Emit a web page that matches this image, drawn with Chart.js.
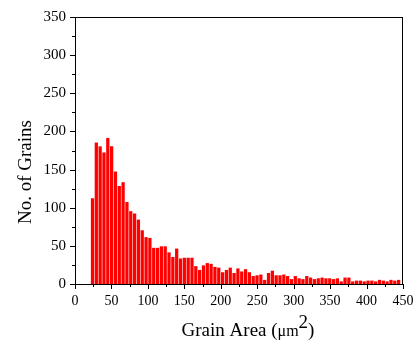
<!DOCTYPE html>
<html>
<head>
<meta charset="utf-8">
<script src="https://cdn.jsdelivr.net/npm/chart.js@4.4.1/dist/chart.umd.min.js"></script>
<style>
  html, body { margin: 0; padding: 0; background: #fff; }
  #wrap { width: 418px; height: 347px; }
</style>
</head>
<body>
<div id="wrap"><canvas id="grains"></canvas></div>
<script>
// bin centres (µm²) and grain counts
const binCenters = [
  24, 29.25, 34.5, 39.75, 45, 50.25, 55.5, 60.75, 66, 71.25,
  76.5, 81.75, 87, 92.25, 97.5, 102.75, 108, 113.25, 118.5, 123.75,
  129, 134.25, 139.5, 144.75, 150, 155.25, 160.5, 165.75, 171, 176.25,
  181.5, 186.75, 192, 197.25, 202.5, 207.75, 213, 218.25, 223.5, 228.75,
  234, 239.25, 244.5, 249.75, 255, 260.25, 265.5, 270.75, 276, 281.25,
  286.5, 291.75, 297, 302.25, 307.5, 312.75, 318, 323.25, 328.5, 333.75,
  339, 344.25, 349.5, 354.75, 360, 365.25, 370.5, 375.75, 381, 386.25,
  391.5, 396.75, 402, 407.25, 412.5, 417.75, 423, 428.25, 433.5, 438.75,
  444
];
const grainCounts = [
  112, 185, 180, 172, 191, 180, 147, 128, 133, 107,
  95, 92, 84, 70, 61, 60, 47, 47, 49, 49,
  41, 35, 46, 33, 34, 34, 34, 23, 18, 24,
  27, 26, 22, 21, 15, 18, 21, 14, 20, 16,
  19, 15, 10, 11, 12, 5, 14, 17, 11, 11,
  12, 10, 6, 10, 7, 6, 10, 8, 6, 7,
  8, 7, 7, 6, 7, 3, 8, 8, 3, 4,
  4, 3, 4, 4, 3, 5, 4, 3, 5, 4,
  5
];
const xTickValues = [0, 50, 100, 150, 200, 250, 300, 350, 400, 450];
const yTickValues = [0, 50, 100, 150, 200, 250, 300, 350];

const serif = '"Liberation Serif", "Times New Roman", serif';

// frame, tick marks and axis titles
const framePlugin = {
  id: 'frame',
  afterDraw(chart) {
    const { ctx, chartArea: a, scales: { x, y } } = chart;
    ctx.save();
    ctx.strokeStyle = '#000';
    ctx.lineWidth = 1;
    ctx.beginPath();
    ctx.moveTo(a.left, a.top + 0.5);
    ctx.lineTo(a.right, a.top + 0.5);
    ctx.moveTo(a.right - 0.5, a.top);
    ctx.lineTo(a.right - 0.5, a.bottom);
    // x ticks, major every 50, minor in between
    for (let v = 0; v <= 450; v += 25) {
      const px = Math.round(x.getPixelForValue(v)) + 0.5;
      const len = v % 50 === 0 ? 5 : 3;
      ctx.moveTo(px, a.bottom);
      ctx.lineTo(px, a.bottom + len);
    }
    for (let v = 0; v <= 350; v += 25) {
      const py = Math.round(y.getPixelForValue(v)) + 0.5;
      const len = v % 50 === 0 ? 5 : 3;
      ctx.moveTo(a.left, py);
      ctx.lineTo(a.left - len, py);
    }
    ctx.stroke();

    ctx.fillStyle = '#000';
    ctx.textBaseline = 'alphabetic';
    // y title
    ctx.save();
    ctx.translate(31, 172);
    ctx.rotate(-Math.PI / 2);
    ctx.textAlign = 'center';
    ctx.font = '19px ' + serif;
    ctx.fillText('No. of Grains', 0, 0);
    ctx.restore();

    // x title with superscript
    const big = '19px ' + serif;
    const mid = '16px ' + serif;
    const parts = [
      { t: 'Grain Area (', f: big, dy: 0 },
      { t: 'μm', f: mid, dy: 0 },
      { t: '2', f: big, dy: -8 },
      { t: ')', f: big, dy: 0 }
    ];
    let total = 0;
    parts.forEach(p => { ctx.font = p.f; p.w = ctx.measureText(p.t).width; total += p.w; });
    let cx = 248 - total / 2;
    const base = 336;
    ctx.textAlign = 'left';
    parts.forEach(p => { ctx.font = p.f; ctx.fillText(p.t, cx, base + p.dy); cx += p.w; });
    ctx.restore();
  }
};

new Chart(document.getElementById('grains'), {
  type: 'bar',
  data: {
    datasets: [{
      data: binCenters.map((c, i) => ({ x: c, y: grainCounts[i] })),
      backgroundColor: '#ff0000',
      borderWidth: 0,
      barThickness: 2.6
    }]
  },
  options: {
    responsive: true,
    maintainAspectRatio: false,
    animation: false,
    layout: { padding: { top: 17, right: 15, left: 0, bottom: 0 } },
    plugins: { legend: { display: false }, tooltip: { enabled: false } },
    scales: {
      x: {
        type: 'linear',
        min: 0, max: 450,
        offset: false,
        afterBuildTicks: s => { s.ticks = xTickValues.map(v => ({ value: v })); },
        afterFit: s => { s.height = 63; s.paddingRight = 0; s.paddingLeft = 0; },
        grid: { display: false, drawTicks: false },
        border: { display: true, color: '#000', width: 1 },
        ticks: { color: '#000', font: { family: serif, size: 14 }, padding: 9, maxRotation: 0 }
      },
      y: {
        min: 0, max: 350,
        afterBuildTicks: s => { s.ticks = yTickValues.map(v => ({ value: v })); },
        afterFit: s => { s.width = 75; s.paddingTop = 0; s.paddingBottom = 0; },
        grid: { display: false, drawTicks: false },
        border: { display: true, color: '#000', width: 1 },
        ticks: { color: '#000', font: { family: serif, size: 15 }, padding: 9 }
      }
    }
  },
  plugins: [framePlugin]
});
</script>
</body>
</html>
